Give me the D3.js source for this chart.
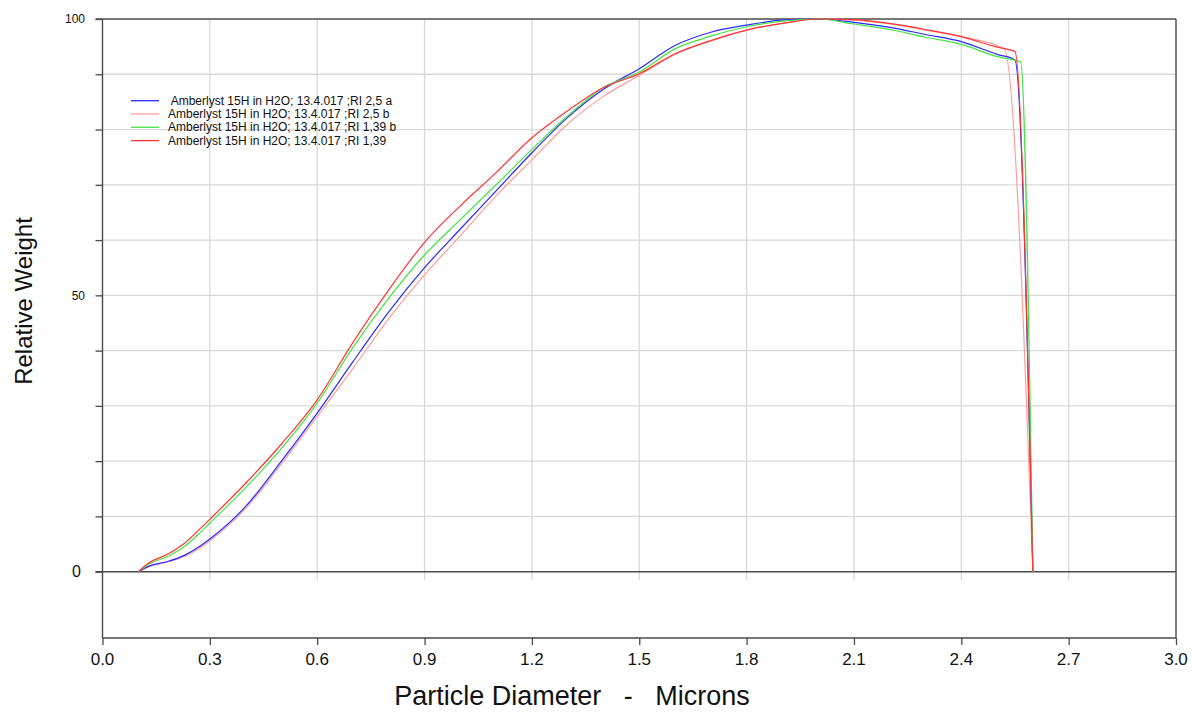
<!DOCTYPE html>
<html>
<head>
<meta charset="utf-8">
<title>Relative Weight vs Particle Diameter</title>
<style>
body { margin: 0; background: #fff; }
svg { display: block; font-family: "Liberation Sans", Arial, sans-serif; }
.grid line { stroke: #d9d9d9; stroke-width: 1.3; }
.frame { stroke: #4a4a4a; stroke-width: 1.4; fill: none; }
.axis path { display: none; }
.axis line { stroke: #4a4a4a; stroke-width: 1.3; }
.series { fill: none; stroke-width: 1.2; }
</style>
</head>
<body>
<script src="https://d3js.org/d3.v7.min.js"></script>
<script>

// data (diameter in microns, relative weight)
var diamBlue  = [0.10, 0.13, 0.18, 0.23, 0.27, 0.30, 0.40, 0.50, 0.60, 0.70, 0.80, 0.90, 1.00, 1.10, 1.20, 1.30, 1.40, 1.50, 1.60, 1.70, 1.80, 1.90, 2.00, 2.10, 2.20, 2.30, 2.40, 2.50, 2.55, 2.60];
var blueA     = [0, 1.0, 1.8, 3.0, 4.5, 5.9, 11.8, 20.0, 28.7, 38.0, 47.0, 55.0, 62.0, 68.9, 75.8, 82.2, 87.3, 91.0, 95.2, 97.6, 98.9, 99.8, 100, 99.4, 98.5, 97.2, 95.9, 93.6, 92.6, 0];

var diamPink  = [0.10, 0.13, 0.18, 0.23, 0.27, 0.30, 0.40, 0.50, 0.60, 0.70, 0.80, 0.90, 1.00, 1.10, 1.20, 1.30, 1.40, 1.50, 1.60, 1.70, 1.80, 1.90, 2.00, 2.10, 2.20, 2.30, 2.40, 2.52, 2.60];
var pinkB     = [0, 0.9, 1.7, 2.8, 4.2, 5.6, 11.4, 19.5, 28.1, 36.8, 45.8, 53.7, 60.8, 68.0, 74.5, 81.0, 86.0, 89.8, 93.6, 96.0, 98.0, 99.2, 100, 99.8, 99.1, 98.0, 96.8, 94.6, 0];

var diamGreen = [0.10, 0.13, 0.18, 0.23, 0.27, 0.30, 0.40, 0.50, 0.60, 0.70, 0.80, 0.90, 1.00, 1.10, 1.20, 1.30, 1.40, 1.50, 1.60, 1.70, 1.80, 1.90, 2.00, 2.10, 2.20, 2.30, 2.40, 2.50, 2.566, 2.60];
var green139b = [0, 1.4, 2.7, 4.6, 6.9, 8.8, 15.2, 22.3, 30.5, 40.6, 49.5, 57.3, 63.7, 70.0, 76.4, 82.5, 87.6, 90.4, 94.6, 96.9, 98.6, 99.6, 100, 99.1, 98.1, 96.7, 95.4, 93.2, 92.2, 0];

var diamRed   = [0.10, 0.13, 0.18, 0.23, 0.27, 0.30, 0.40, 0.50, 0.60, 0.70, 0.80, 0.90, 1.00, 1.10, 1.20, 1.30, 1.40, 1.50, 1.60, 1.70, 1.80, 1.90, 2.00, 2.10, 2.20, 2.30, 2.40, 2.50, 2.55, 2.60];
var red139    = [0, 1.6, 3.1, 5.2, 7.6, 9.5, 16.0, 23.1, 31.1, 41.5, 51.0, 59.6, 66.2, 72.2, 78.5, 83.4, 87.6, 90.1, 93.7, 96.1, 98.0, 99.2, 100, 99.9, 99.2, 98.1, 96.8, 94.9, 94.1, 0];

var seriesNames = [
  " Amberlyst 15H in H2O; 13.4.017 ;RI 2,5 a",
  "Amberlyst 15H in H2O; 13.4.017 ;RI 2,5 b",
  "Amberlyst 15H in H2O; 13.4.017 ;RI 1,39 b",
  "Amberlyst 15H in H2O; 13.4.017 ;RI 1,39"
];
var seriesColors = ["#2a2aff", "#ff9c9c", "#44e444", "#ff3434"];

var xTicks = [0.0, 0.3, 0.6, 0.9, 1.2, 1.5, 1.8, 2.1, 2.4, 2.7, 3.0];
var yTicks = [0, 10, 20, 30, 40, 50, 60, 70, 80, 90, 100];
var yLabels = [0, 50, 100];

var series = [
  { name: seriesNames[0], color: seriesColors[0], xs: diamBlue,  ys: blueA },
  { name: seriesNames[1], color: seriesColors[1], xs: diamPink,  ys: pinkB },
  { name: seriesNames[2], color: seriesColors[2], xs: diamGreen, ys: green139b },
  { name: seriesNames[3], color: seriesColors[3], xs: diamRed,   ys: red139 }
];

var width = 1192, height = 713;

var x = d3.scaleLinear().domain([0, 3]).range([102.5, 1176]);
var y = d3.scaleLinear().domain([-12, 100]).range([638, 19]);

var svg = d3.select("body").append("svg")
    .attr("width", width)
    .attr("height", height);

svg.append("rect").attr("width", width).attr("height", height).attr("fill", "#fff");

// grid
var grid = svg.append("g").attr("class", "grid");
grid.selectAll(".h")
    .data(yTicks.filter(function(d) { return d > 0 && d < 100; }))
  .enter().append("line")
    .attr("x1", x(0)).attr("x2", x(3))
    .attr("y1", function(d) { return y(d); })
    .attr("y2", function(d) { return y(d); });
grid.selectAll(".v")
    .data(xTicks.filter(function(d) { return d > 0 && d < 3; }))
  .enter().append("line")
    .attr("x1", function(d) { return x(d); })
    .attr("x2", function(d) { return x(d); })
    .attr("y1", y(100))
    .attr("y2", y(0) + 8);

// axes (ticks)
svg.append("g")
    .attr("class", "axis")
    .attr("transform", "translate(0," + y(-12) + ")")
    .call(d3.axisBottom(x).tickValues(xTicks).tickSize(7).tickFormat(""));

svg.append("g")
    .attr("class", "axis")
    .attr("transform", "translate(" + x(0) + ",0)")
    .call(d3.axisLeft(y).tickValues(yTicks).tickSize(7).tickFormat(""));

// x tick labels
svg.append("g").selectAll("text")
    .data(xTicks)
  .enter().append("text")
    .attr("x", function(d) { return x(d); })
    .attr("y", 665)
    .attr("text-anchor", "middle")
    .style("font-size", "17px")
    .style("fill", "#111")
    .text(function(d) { return d3.format(".1f")(d); });

// y tick labels
svg.append("g").selectAll("text")
    .data(yLabels)
  .enter().append("text")
    .attr("x", function(d) { return d === 0 ? 81 : 85; })
    .attr("y", function(d) { return y(d); })
    .attr("dy", "0.35em")
    .attr("text-anchor", "end")
    .style("font-size", function(d) { return d === 0 ? "16px" : "12px"; })
    .style("fill", "#111")
    .text(function(d) { return d; });

// frame
svg.append("line").attr("class", "frame")
    .attr("x1", x(0) - 7).attr("x2", x(3)).attr("y1", y(100)).attr("y2", y(100));
svg.append("line").attr("class", "frame")
    .attr("x1", x(0) - 7).attr("x2", x(3)).attr("y1", y(0)).attr("y2", y(0));
svg.append("line").attr("class", "frame")
    .attr("x1", x(0)).attr("x2", x(3)).attr("y1", y(-12)).attr("y2", y(-12));
svg.append("line").attr("class", "frame")
    .attr("x1", x(0)).attr("x2", x(0)).attr("y1", y(100)).attr("y2", y(-12));
svg.append("line").attr("class", "frame")
    .attr("x1", x(3)).attr("x2", x(3)).attr("y1", y(100)).attr("y2", y(-12));

// curves
var line = d3.line()
    .x(function(d) { return x(d[0]); })
    .y(function(d) { return y(d[1]); })
    .curve(d3.curveMonotoneX);

var drawOrder = [1, 0, 2, 3];
drawOrder.forEach(function(i) {
  var s = series[i];
  var pts = s.xs.map(function(v, k) { return [v, s.ys[k]]; });
  svg.append("path")
      .attr("class", "series")
      .attr("stroke", s.color)
      .attr("d", line(pts));
});

// legend
var legend = svg.append("g");
series.forEach(function(s, i) {
  var ly = 100.7 + i * 13.3;
  legend.append("line")
      .attr("x1", 131).attr("x2", 159)
      .attr("y1", ly).attr("y2", ly)
      .attr("stroke", s.color)
      .attr("stroke-width", 1.3);
  legend.append("text")
      .attr("x", 168)
      .attr("y", ly + 4)
      .style("font-size", "12px")
      .style("fill", "#111")
      .style("white-space", "pre")
      .text(s.name);
});

// axis titles
svg.append("text")
    .attr("transform", "translate(32,301)rotate(-90)")
    .attr("text-anchor", "middle")
    .style("font-size", "24px")
    .style("fill", "#111")
    .text("Relative Weight");

svg.append("text")
    .attr("x", 572)
    .attr("y", 705)
    .attr("text-anchor", "middle")
    .style("font-size", "27px")
    .style("fill", "#111")
    .style("white-space", "pre")
    .text("Particle Diameter   -   Microns");

</script>
</body>
</html>
